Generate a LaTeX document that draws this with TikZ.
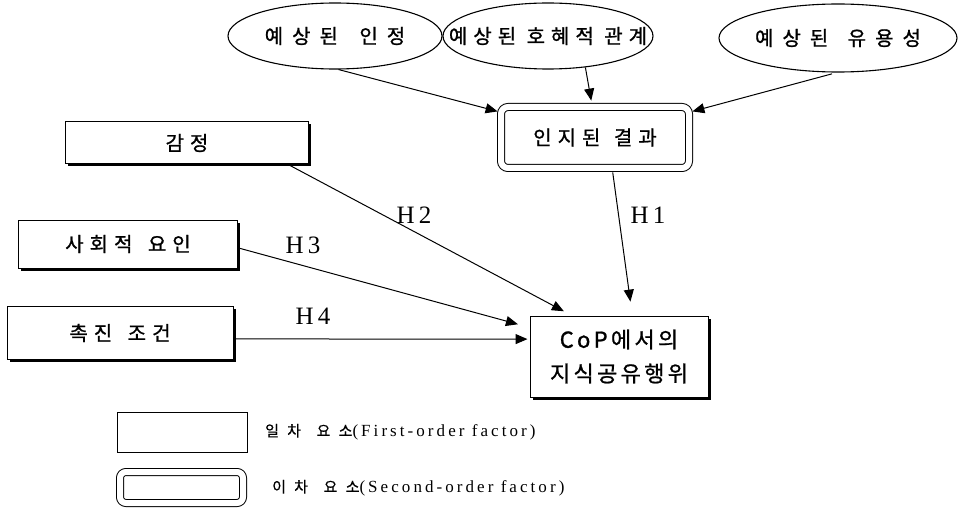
\documentclass[tikz,border=0pt]{standalone}
\usepackage{fontspec}
\setmainfont{Liberation Serif}
\newfontfamily\krwide[LetterSpace=30, FakeBold=1]{Noto Sans CJK KR}
\newfontfamily\krwider[LetterSpace=45, FakeBold=1]{Noto Sans CJK KR}
\newfontfamily\krmid[LetterSpace=15, FakeBold=1]{Noto Sans CJK KR}
\newfontfamily\krleg[LetterSpace=55, FakeBold=0.6]{Noto Sans CJK KR}
\newfontfamily\latsp[LetterSpace=18]{Liberation Serif}
\usetikzlibrary{arrows.meta,shapes.geometric,shadows}

\tikzset{
  oval/.style={draw, ellipse, line width=1.1pt, inner sep=0pt},
  ovaltext/.style={font=\krwide\fontsize{20}{22}\selectfont, inner sep=0pt},
  ovalwide/.style={font=\krwider\fontsize{20}{22}\selectfont, inner sep=0pt},
  factorbox/.style={draw, line width=1pt, inner sep=0pt, fill=white,
    drop shadow={shadow xshift=2.5pt, shadow yshift=-2.5pt, fill=black, opacity=1},
    font=\krwide\fontsize{20}{22}\selectfont},
  plainbox/.style={draw, line width=1pt, inner sep=0pt},
  secondbox/.style={draw, double, double distance=6pt, line width=1pt,
    rounded corners=7pt, inner sep=0pt},
  link/.style={-{Triangle[length=12pt,width=10pt]}, line width=1pt},
  hlabel/.style={font=\fontsize{25}{25}\selectfont, inner sep=0pt},
  legendtext/.style={anchor=west, inner sep=0pt}
}

\begin{document}
\begin{tikzpicture}[x=1pt,y=-1pt]
\useasboundingbox[fill=white] (0,0) rectangle (959,508);

% antecedents of the perceived outcome
\node[oval, minimum width=214, minimum height=66,
      label={[ovalwide]center:예상된 \hspace{8pt}인정}] (e1) at (335,36) {};
\node[oval, minimum width=210, minimum height=66,
      label={[ovaltext]center:예상된 호혜적 관계}] (e2) at (548,36) {};
\node[oval, minimum width=238, minimum height=68,
      label={[ovalwide]center:예상된 \hspace{6pt}유용성}] (e3) at (838,38) {};

% second-order factor
\node[secondbox, minimum width=188, minimum height=61,
      font=\krwide\fontsize{20}{22}\selectfont] (res) at (595,137.5) {인지된 \hspace{3pt}결과};

% first-order factors
\node[factorbox, minimum width=243, minimum height=42] (emo) at (187,143) {감정};
\node[factorbox, minimum width=219, minimum height=48] (soc) at (128,244) {사회적 \hspace{5pt}요인};
\node[factorbox, minimum width=226, minimum height=53] (fac) at (120,333) {촉진 \hspace{5pt}조건};

% outcome
\node[factorbox, minimum width=178, minimum height=81, align=center,
      font=\krmid\fontsize{22}{34}\selectfont] (cop) at (619,356.5) {CoP에서의\\지식공유행위};

% arrows into the perceived outcome
\draw[link, shorten >=3pt] (e1.-84) -- (res.165);
\draw[link, shorten >=6pt] (e2.-40) -- (res.95);
\draw[link, shorten <=5pt, shorten >=3pt] (e3.-92) -- (res.15);

% hypotheses
\draw[link, shorten <=4pt, shorten >=14pt] (res.-61) -- (cop.72);
\draw[link, shorten >=9pt] (emo.-12) -- (cop.139);
\draw[link, shorten >=12pt] (soc.-2) -- (cop.162.4);
\draw[link, shorten >=2pt] (fac.-3.5) -- (cop.169.5);

\node[hlabel] (h1) at (648,215) {H\,1};
\node[hlabel] (h2) at (414,215) {H\,2};
\node[hlabel] (h3) at (303,245) {H\,3};
\node[hlabel] (h4) at (313,316) {H\,4};

% legend
\node[plainbox, minimum width=130, minimum height=40] (lg1) at (182,432) {};
\node[secondbox, rounded corners=6pt, minimum width=123, minimum height=31] (lg2) at (181.5,487.5) {};
\node[legendtext] (lt1) at (265,432)
  {{\krleg\fontsize{15}{17}\selectfont 일차 \hspace{4pt}요소}{\latsp\fontsize{17}{19}\selectfont(First-order factor)}};
\node[legendtext] (lt2) at (272,488)
  {{\krleg\fontsize{15}{17}\selectfont 이차 \hspace{4pt}요소}{\latsp\fontsize{17}{19}\selectfont(Second-order factor)}};
\end{tikzpicture}
\end{document}
